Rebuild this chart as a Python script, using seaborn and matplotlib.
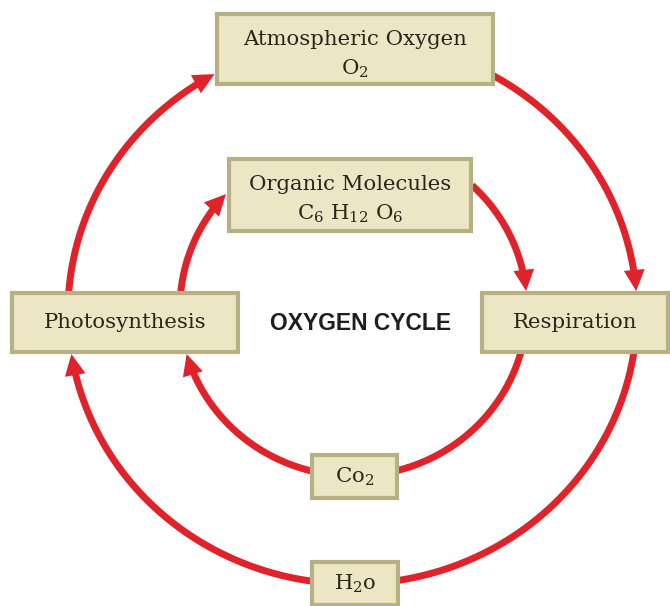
import numpy as np
import pandas as pd
import matplotlib
matplotlib.use("Agg")
import matplotlib.pyplot as plt
from matplotlib.patches import Rectangle
import seaborn as sns

# ---- diagram content ----
node_labels = ["Atmospheric Oxygen\nO$_2$", "Organic Molecules\nC$_6$ H$_{12}$ O$_6$",
               "Photosynthesis", "Respiration", "Co$_2$", "H$_2$o"]
node_boxes = [(217, 14, 493, 84), (229, 159, 471, 231), (12, 293, 238, 352),
              (482, 293, 668, 352), (312, 455, 397, 498), (312, 562, 398, 605)]
node_text_y = [55, 200, 323, 323, 477, 584]
center_title = "OXYGEN CYCLE"

# cycles: ellipse (cx, cy, rx, ry) and arcs (start deg, end deg, arrowhead?)
cycle_ellipses = {"outer": (352.5, 312, 284.5, 272), "inner": (353.5, 308, 173.5, 168)}
cycle_arcs = [("outer", 184, 241, True), ("outer", 299.6, 355.6, True),
              ("outer", 8.5, 81.5, False), ("outer", 98.0, 171.1, True),
              ("inner", 185.1, 222.7, True), ("inner", 313.1, 354.2, True),
              ("inner", 15.2, 76.5, False), ("inner", 103.5, 164.1, True)]

RED = "#e0232b"
FILL = "#ede6c4"
EDGE = "#b8b085"
TXT = "#26261e"

sns.set_theme(style="white")
plt.rcParams["mathtext.fontset"] = "dejavuserif"

fig = plt.figure(figsize=(6.7, 6.06), dpi=100)
ax = fig.add_axes([0, 0, 1, 1])
ax.set_xlim(0, 670)
ax.set_ylim(606, 0)
ax.axis("off")

for i, (name, a0, a1, head) in enumerate(cycle_arcs):
    cx, cy, rx, ry = cycle_ellipses[name]
    if a1 < a0:
        a1 += 360
    t = np.deg2rad(np.linspace(a0, a1, 150))
    xs = cx + rx * np.cos(t)
    ys = cy + ry * np.sin(t)
    if head:
        d = np.cumsum(np.hypot(np.diff(xs[::-1]), np.diff(ys[::-1])))
        k = np.searchsorted(d, 12)
        xs_l, ys_l = xs[: len(xs) - 1 - k], ys[: len(ys) - 1 - k]
    else:
        xs_l, ys_l = xs, ys
    df = pd.DataFrame({"x": xs_l, "y": ys_l})
    sns.lineplot(data=df, x="x", y="y", sort=False, ax=ax, color=RED, lw=5.0,
                 solid_capstyle="butt", zorder=2)
    if head:
        ax.annotate("", xy=(xs[-1], ys[-1]), xytext=(xs[-4], ys[-4]),
                    arrowprops=dict(arrowstyle="-|>,head_length=0.45,head_width=0.22",
                                    mutation_scale=34, color=RED,
                                    lw=0, shrinkA=0, shrinkB=0), zorder=3)

for lab, (x0, y0, x1, y1), ty in zip(node_labels, node_boxes, node_text_y):
    ax.add_patch(Rectangle((x0, y0), x1 - x0, y1 - y0, facecolor=FILL,
                           edgecolor=EDGE, lw=3.0, zorder=4))
    ax.text((x0 + x1) / 2, ty, lab, ha="center", va="center", fontsize=15.3,
            family="DejaVu Serif", color=TXT, zorder=5, linespacing=1.5)

ax.text(361, 323, center_title, ha="center", va="center", fontsize=16.5,
        fontweight="bold", family="Liberation Sans", color="#1e1e1e")

fig.savefig("out.png", dpi=100)
